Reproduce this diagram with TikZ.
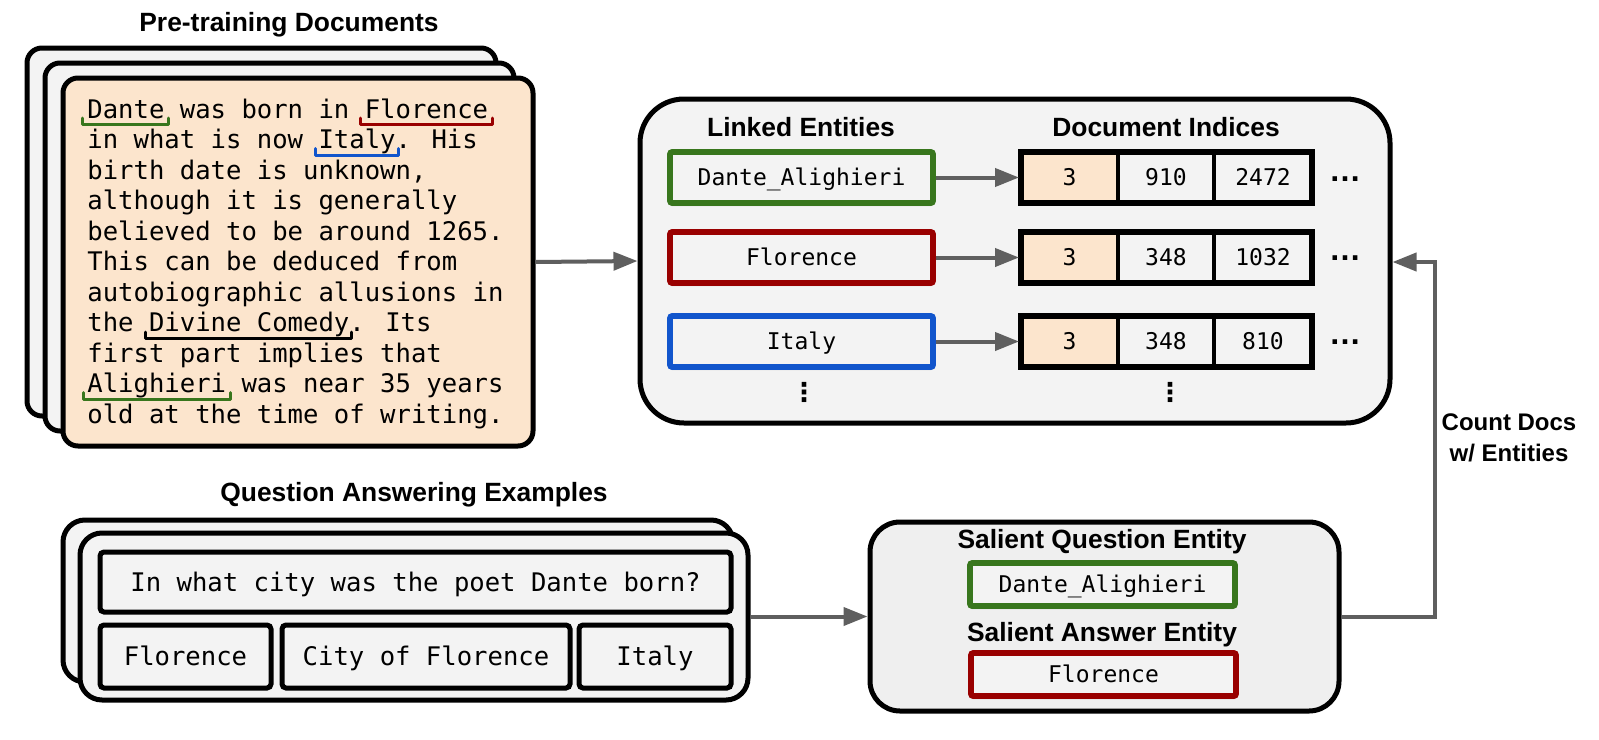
\documentclass[tikz,border=0pt]{standalone}
\usepackage{fontspec}
\setmainfont{Liberation Sans}
\newfontfamily\monofont{DejaVu Sans Mono}
\newfontfamily\symfont{DejaVu Sans}
\usetikzlibrary{arrows.meta,fit,shadows,calc}
\definecolor{peach}{HTML}{FCE5CD}
\definecolor{lgray}{HTML}{F3F3F3}
\definecolor{salgray}{HTML}{EFEFEF}
\definecolor{egreen}{HTML}{38761D}
\definecolor{ered}{HTML}{990000}
\definecolor{eblue}{HTML}{1155CC}
\definecolor{agray}{HTML}{5F5F5F}
\tikzset{
  hdr/.style={font=\fontsize{13.2}{15}\selectfont\bfseries, inner sep=0pt},
  doctext/.style={font=\monofont\fontsize{12.8}{15}\selectfont, inner sep=0pt, anchor=base west},
  card/.style={draw=black, line width=2.5pt, rounded corners=7.5pt, inner sep=0pt},
  softshadow/.style={drop shadow={shadow xshift=0pt, shadow yshift=-1.5pt, opacity=0.18, fill=black}},
  entbox/.style={draw, line width=2.8pt, fill=lgray, inner sep=0pt, rounded corners=1pt, softshadow},
  cell/.style={draw=black, line width=2pt, fill=lgray, inner sep=0pt},
  cellframe/.style={draw=black, line width=3pt, fill=lgray, inner sep=0pt, softshadow},
  qbox/.style={draw=black, line width=2.5pt, fill=lgray, rounded corners=2pt, inner sep=0pt},
  monosmall/.style={font=\monofont\fontsize{11.5}{14}\selectfont, inner sep=0pt, text height=8.4pt, text depth=0pt},
  monobig/.style={font=\monofont\fontsize{12.8}{15}\selectfont, inner sep=0pt, text height=9.3pt, text depth=0pt},
  ul/.style={line width=1.5pt, line join=round, line cap=round},
  arr/.style={draw=agray, line width=2pt, -{Triangle[length=12pt,width=9pt]}},
  dotsnode/.style={font=\bfseries\fontsize{16}{16}\selectfont, inner sep=0pt},
  vdots/.style={font=\symfont\bfseries\fontsize{13}{13}\selectfont, inner sep=0pt}
}
% name, x1, y1, x2, y2, box style, text style, text
\newcommand\mybox[8]{%
  \node[#6, fit={(#2,#3) (#4,#5)}] (#1) {};
  \node[#7] (#1-t) at (#1.center) {#8};}
\begin{document}
\begin{tikzpicture}[x=0.5pt,y=-0.5pt]
\useasboundingbox[fill=white] (0,0) rectangle (1599,739);

% ---------- Pre-training documents ----------
\node[hdr] (tdoc) at (289,25) {Pre-training Documents};
\node[card, fill=lgray, fit={(27,48) (496,416)}] (docA) {};
\node[card, fill=lgray, fit={(45,63) (514,431)}] (docB) {};
\node[card, fill=peach, fit={(63,78) (533,446)}] (docC) {};
\foreach \t [count=\i] in {{Dante was born in Florence},{in what is now Italy. His},{birth date is unknown,},{although it is generally},{believed to be around 1265.},{This can be deduced from},{autobiographic allusions in},{the Divine Comedy. Its},{first part implies that},{Alighieri was near 35 years},{old at the time of writing.}}
  \node[doctext] (l\i) at (87,{118+(\i-1)*30.5}) {\t};
\draw[ul, egreen] (82,118) -- (82,124.5) -- (168,124.5) -- (168,118);
\draw[ul, ered] (360,118) -- (360,124.5) -- (492,124.5) -- (492,118);
\draw[ul, eblue] (315,148.5) -- (315,155) -- (398,155) -- (398,148.5);
\draw[ul, black] (145,332) -- (145,338.5) -- (351,338.5) -- (351,332);
\draw[ul, egreen] (83,392.5) -- (83,399) -- (230,399) -- (230,392.5);

% ---------- Linked entities box ----------
\node[card, fill=lgray, rounded corners=22pt, fit={(640,99) (1390,423)}] (bigbox) {};
\node[hdr] (tle) at (801,127) {Linked Entities};
\node[hdr] (tdi) at (1166,127) {Document Indices};

\mybox{e1}{670}{152}{933}{203}{entbox, draw=egreen}{monosmall}{Dante\_Alighieri}
\mybox{e2}{670}{232}{933}{283}{entbox, draw=ered}{monosmall}{Florence}
\mybox{e3}{670}{316}{933}{367}{entbox, draw=eblue}{monosmall}{Italy}

\node[cellframe, fit={(1021,152) (1312,203)}] (i1) {};
\mybox{i1a}{1021}{152}{1118}{203}{cell, fill=peach}{monosmall}{3}
\mybox{i1b}{1118}{152}{1214}{203}{cell}{monosmall}{910}
\mybox{i1c}{1214}{152}{1312}{203}{cell}{monosmall}{2472}
\node[draw=black, line width=3pt, inner sep=0pt, fit={(1021,152) (1312,203)}] (i1o) {};

\node[cellframe, fit={(1021,232) (1312,283)}] (i2) {};
\mybox{i2a}{1021}{232}{1118}{283}{cell, fill=peach}{monosmall}{3}
\mybox{i2b}{1118}{232}{1214}{283}{cell}{monosmall}{348}
\mybox{i2c}{1214}{232}{1312}{283}{cell}{monosmall}{1032}
\node[draw=black, line width=3pt, inner sep=0pt, fit={(1021,232) (1312,283)}] (i2o) {};

\node[cellframe, fit={(1021,316) (1312,367)}] (i3) {};
\mybox{i3a}{1021}{316}{1118}{367}{cell, fill=peach}{monosmall}{3}
\mybox{i3b}{1118}{316}{1214}{367}{cell}{monosmall}{348}
\mybox{i3c}{1214}{316}{1312}{367}{cell}{monosmall}{810}
\node[draw=black, line width=3pt, inner sep=0pt, fit={(1021,316) (1312,367)}] (i3o) {};

\node[dotsnode] (d1) at (1345,179) {…};
\node[dotsnode] (d2) at (1345,258) {…};
\node[dotsnode] (d3) at (1345,342) {…};
\node[vdots] (vd1) at (804,392) {⋮};
\node[vdots] (vd2) at (1170,392) {⋮};

\draw[arr] (e1.east) -- (i1a.west);
\draw[arr] (e2.east) -- (i2a.west);
\draw[arr] (e3.east) -- (i3a.west);

% ---------- QA examples ----------
\node[hdr] (tqa) at (414,495) {Question Answering Examples};
\node[card, fill=lgray, rounded corners=11pt, fit={(63,520) (733,682)}] (qaA) {};
\node[card, fill=lgray, rounded corners=11pt, fit={(80,533) (748,700)}] (qaB) {};
\mybox{q}{100}{552}{731}{612}{qbox}{monobig}{In what city was the poet Dante born?}
\mybox{a1}{100}{625}{271}{688}{qbox}{monobig}{Florence}
\mybox{a2}{282}{625}{570}{688}{qbox}{monobig}{City of Florence}
\mybox{a3}{579}{625}{731}{688}{qbox}{monobig}{Italy}

% ---------- Salient entities ----------
\node[card, fill=salgray, rounded corners=15pt, fit={(870,522) (1339,711)}] (sal) {};
\node[hdr] (sq) at (1102,542) {Salient Question Entity};
\mybox{sqe}{970}{563}{1235}{606}{entbox, draw=egreen}{monosmall}{Dante\_Alighieri}
\node[hdr] (sa) at (1102,635) {Salient Answer Entity};
\mybox{sae}{971}{653}{1236}{696}{entbox, draw=ered}{monosmall}{Florence}

\node[hdr, font=\fontsize{12}{15.5}\selectfont\bfseries, align=center] (cnt) at (1509,438) {Count Docs\\w/ Entities};

% ---------- connectors ----------
\draw[arr] (docC.east) -- (bigbox.west);
\draw[arr] (qaB.east) -- (sal.west);
\coordinate (elbow) at (1435,262);
\draw[arr] (sal.east) -| (elbow) -- (bigbox.east |- elbow);
\end{tikzpicture}
\end{document}
